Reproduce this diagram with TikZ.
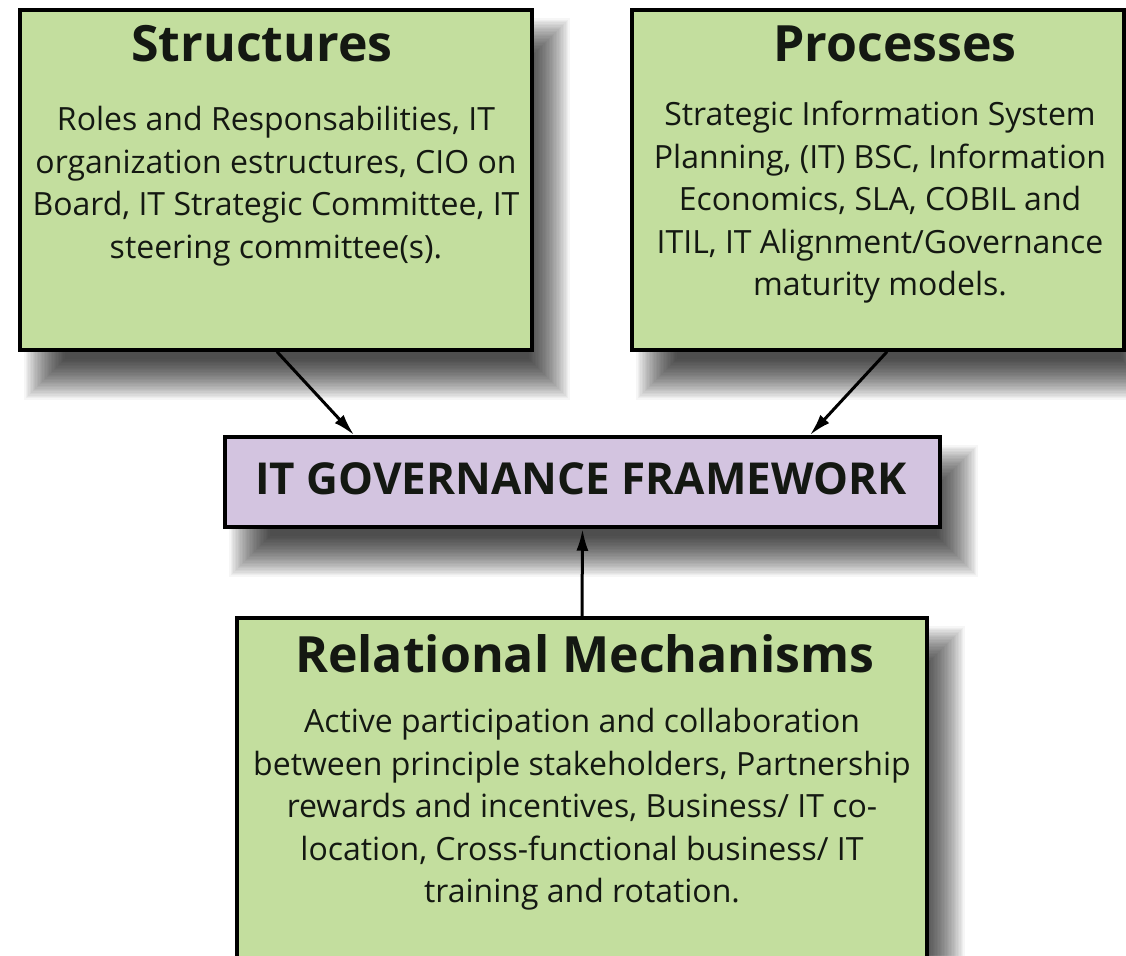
\documentclass[tikz,border=0pt]{standalone}
\usepackage{fontspec}
\setmainfont{Open Sans}
\usetikzlibrary{arrows.meta,calc}
\definecolor{boxgreen}{RGB}{195,222,158}
\definecolor{boxpurple}{RGB}{211,196,224}
\definecolor{inktext}{RGB}{20,24,18}
\pgfdeclarelayer{background}
\pgfsetlayers{background,main}
\newcommand{\castshadow}[1]{%
  \foreach \k in {0,...,29}{%
    \fill[black,opacity=0.036]
      ($(#1.north west)+(6+1.4*\k,10+1.4*\k)$) rectangle
      ($(#1.south east)+(36-1.4*\k,48-1.4*\k)$);
  }}
\begin{document}
\begin{tikzpicture}[x=1pt,y=-1pt,
  panel/.style={draw=black, line width=3.5pt, inner sep=0pt},
  greenpanel/.style={panel, fill=boxgreen},
  purplepanel/.style={panel, fill=boxpurple},
  arrowline/.style={line width=3pt, -{Latex[length=22pt,width=12pt]}},
  titletext/.style={font=\fontsize{50}{60}\selectfont\bfseries, anchor=base, inner sep=0pt, text=inktext},
  bodytext/.style={font=\fontsize{32}{42.5}\selectfont, align=center, anchor=north, inner sep=0pt, text=inktext}]
\useasboundingbox (0,0) rectangle (1126,955);
\clip (0,0) rectangle (1126,955);

% boxes
\node[greenpanel, minimum width=512pt, minimum height=340pt] (S) at (276,180) {};
\node[greenpanel, minimum width=492pt, minimum height=340pt] (P) at (878,180) {};
\node[purplepanel, minimum width=715pt, minimum height=90pt] (IT) at (582.5,482) {};
\node[greenpanel, minimum width=690pt, minimum height=400pt] (R) at (582,818) {};

% soft drop shadows
\begin{pgfonlayer}{background}
  \fill[white] (0,0) rectangle (1126,955);
  \castshadow{S}
  \castshadow{P}
  \castshadow{IT}
  \castshadow{R}
\end{pgfonlayer}

% texts
\node[titletext] (Stitle) at (262,62) {Structures};
\node[bodytext] (Sbody) at (276,106) {Roles and Responsabilities, IT\\organization estructures, CIO on\\Board, IT Strategic Committee, IT\\steering committee(s).};

\node[titletext] (Ptitle) at (895,62) {Processes};
\node[bodytext] (Pbody) at (880,101) {Strategic Information System\\Planning, (IT) BSC, Information\\Economics, SLA, COBIL and\\ITIL, IT Alignment/Governance\\maturity models.};

\node[font=\fontsize{44}{52}\selectfont\bfseries, anchor=base, inner sep=0pt, text=inktext] (ITtext) at (581,494) {IT GOVERNANCE FRAMEWORK};

\node[titletext] (Rtitle) at (585,672) {Relational Mechanisms};
\node[bodytext] (Rbody) at (582,708) {Active participation and collaboration\\between principle stakeholders, Partnership\\rewards and incentives, Business/ IT co-\\location, Cross-functional business/ IT\\training and rotation.};

% connectors
\draw[arrowline] ([xshift=1pt]S.south) -- ([xshift=131pt]IT.north west);
\draw[arrowline] ([xshift=9pt]P.south) -- ([xshift=-132pt]IT.north east);
\draw[arrowline] (R.north) -- (IT.south);
\end{tikzpicture}
\end{document}
